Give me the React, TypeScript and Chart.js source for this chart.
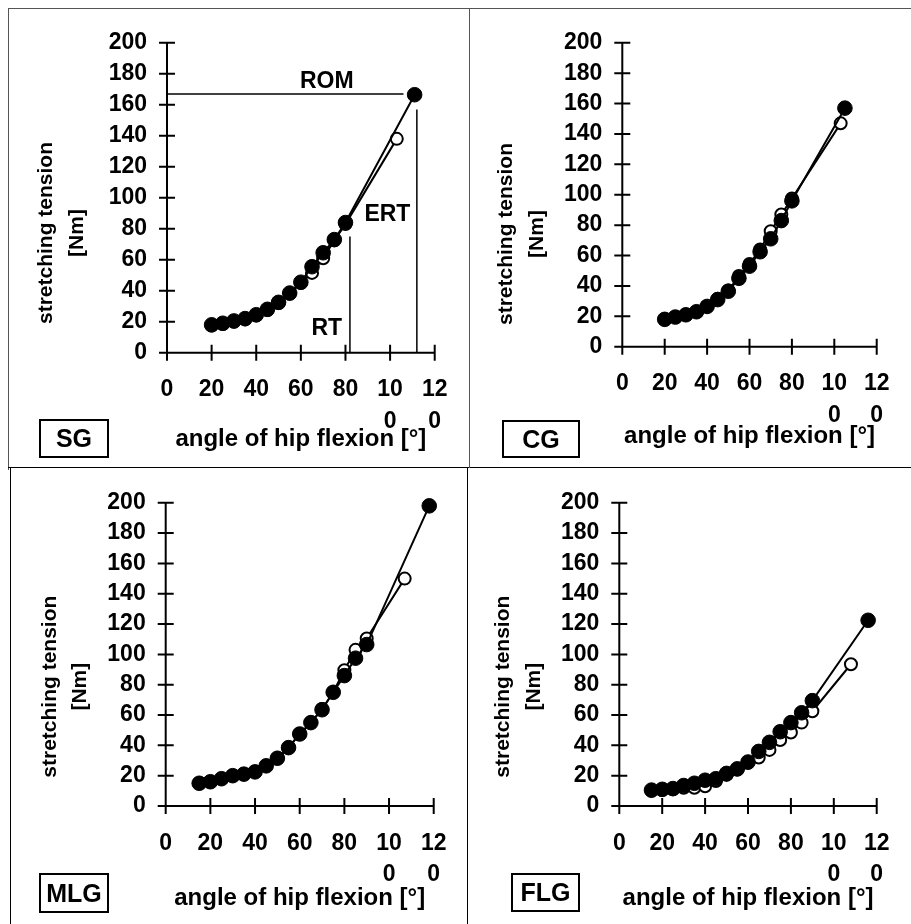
import React, { useEffect, useRef } from "react";
import { Chart, registerables } from "chart.js";

Chart.register(...registerables);

const FONT = "'Liberation Sans', Arial, Helvetica, sans-serif";

// ---------- shared axis text ----------
const xTickValues = [0, 20, 40, 60, 80, 100, 120];
const xTickLabels = ["0", "20", "40", "60", "80", "10\n0", "12\n0"];
const yTickValues = [0, 20, 40, 60, 80, 100, 120, 140, 160, 180, 200];
const yTickLabels = ["0", "20", "40", "60", "80", "100", "120", "140", "160", "180", "200"];
const xTitle = "angle of hip flexion [°]";
const yTitle = ["stretching tension", "[Nm]"];

// ---------- SG ----------
const sgFilledX = [20, 25, 30, 35, 40, 45, 50, 55, 60, 65, 70, 75, 80, 111];
const sgFilledY = [18, 19, 20.5, 22, 24.5, 28, 32.5, 38.5, 45.5, 55.5, 64.5, 73, 84, 166.5];
const sgOpenX = [20, 25, 30, 35, 40, 45, 50, 55, 60, 65, 70, 75, 80, 103];
const sgOpenY = [17.5, 18.5, 20, 21.5, 24, 27.5, 32, 38, 45, 51.5, 61, 72.5, 83, 138];

// SG annotations (ROM / RT / ERT)
const romLineX = [0, 106];
const romLineY = [167, 167];
const rtLineX = [82, 82];
const rtLineY = [0, 75];
const ertLineX = [112, 112];
const ertLineY = [0, 157];
const sgNoteText = ["ROM", "RT", "ERT"];
const sgNoteX = [71.6, 71.6, 98.8];
const sgNoteY = [175, 15.6, 89];

// ---------- CG ----------
const cgFilledX = [20, 25, 30, 35, 40, 45, 50, 55, 60, 65, 70, 75, 80, 105];
const cgFilledY = [18, 19.5, 21, 23, 26.5, 31, 36.5, 45, 53, 62.5, 71, 83, 96, 157];
const cgOpenX = [20, 25, 30, 35, 40, 45, 50, 55, 60, 65, 70, 75, 80, 103];
const cgOpenY = [18, 19.5, 21, 23, 26.5, 31.5, 37, 46.5, 54.5, 64, 76, 87, 97.5, 147];

// ---------- MLG ----------
const mlgFilledX = [15, 20, 25, 30, 35, 40, 45, 50, 55, 60, 65, 70, 75, 80, 85, 90, 118];
const mlgFilledY = [15, 16, 18, 20, 21, 22.5, 26.5, 31.5, 38.5, 47.5, 55, 63.5, 75, 86, 97.5, 106.5, 198];
const mlgOpenX = [15, 20, 25, 30, 35, 40, 45, 50, 55, 60, 65, 70, 75, 80, 85, 90, 107];
const mlgOpenY = [15, 16, 18, 20, 21, 22.5, 26.5, 31.5, 38.5, 47.5, 55, 64, 75, 89.5, 103, 110.5, 150];

// ---------- FLG ----------
const flgFilledX = [15, 20, 25, 30, 35, 40, 45, 50, 55, 60, 65, 70, 75, 80, 85, 90, 116];
const flgFilledY = [10.5, 11, 11.5, 13.5, 15, 17, 18, 21.5, 24.5, 29, 36, 42, 49, 55, 61.5, 69.5, 122.5];
const flgOpenX = [15, 20, 25, 30, 35, 40, 45, 50, 55, 60, 65, 70, 75, 80, 85, 90, 108];
const flgOpenY = [10, 10.5, 11, 12, 12, 13, 16.5, 20.5, 24, 28.5, 32, 37, 43.5, 48.5, 55, 62.5, 93.5];

const zip = (xs: number[], ys: number[]) => xs.map((x, i) => ({ x, y: ys[i] }));

type Panel = {
  name: string;
  left: number; top: number; width: number; height: number;
  axisX: number; topY: number; axisY: number; rightX: number;
  xTitleOffset: number;
  yTitleX: number; yTitleY: number;
  box: [number, number, number, number];
  filled: { x: number[]; y: number[] };
  open: { x: number[]; y: number[] };
  notes?: boolean;
};

const panels: Panel[] = [
  {
    name: "SG", left: 9, top: 9, width: 460, height: 459,
    axisX: 167, topY: 39.3, axisY: 352.7, rightX: 436.7, xTitleOffset: 87,
    yTitleX: 46.7, yTitleY: 233, box: [39, 419, 70, 39],
    filled: { x: sgFilledX, y: sgFilledY }, open: { x: sgOpenX, y: sgOpenY }, notes: true,
  },
  {
    name: "CG", left: 470, top: 9, width: 441, height: 459,
    axisX: 622.3, topY: 39.3, axisY: 346.7, rightX: 886.7, xTitleOffset: 90,
    yTitleX: 506.7, yTitleY: 234, box: [502, 420, 78, 38],
    filled: { x: cgFilledX, y: cgFilledY }, open: { x: cgOpenX, y: cgOpenY },
  },
  {
    name: "MLG", left: 11, top: 469, width: 457, height: 455,
    axisX: 165.7, topY: 499.3, axisY: 806, rightX: 437.7, xTitleOffset: 92,
    yTitleX: 50, yTitleY: 686.7, box: [39, 873, 70, 40],
    filled: { x: mlgFilledX, y: mlgFilledY }, open: { x: mlgOpenX, y: mlgOpenY },
  },
  {
    name: "FLG", left: 469, top: 469, width: 442, height: 455,
    axisX: 619.3, topY: 499.3, axisY: 806, rightX: 886.7, xTitleOffset: 92,
    yTitleX: 503.3, yTitleY: 686.7, box: [511, 873, 69, 39],
    filled: { x: flgFilledX, y: flgFilledY }, open: { x: flgOpenX, y: flgOpenY },
  },
];

const TICK = 8;

const crossAxesPlugin = {
  id: "crossAxes",
  beforeDatasetsDraw(chart: any) {
    const { ctx } = chart;
    const xs = chart.scales.x;
    const ys = chart.scales.y;
    const x0 = xs.getPixelForValue(0);
    const x1 = xs.getPixelForValue(120);
    const y0 = ys.getPixelForValue(0);
    const y1 = ys.getPixelForValue(200);
    ctx.save();
    ctx.strokeStyle = "#000";
    ctx.lineWidth = 2;
    ctx.beginPath();
    ctx.moveTo(x0, y1);
    ctx.lineTo(x0, y0 + TICK);
    ctx.moveTo(x0 - TICK, y0);
    ctx.lineTo(x1, y0);
    ys.ticks.forEach((t: any) => {
      const p = ys.getPixelForValue(t.value);
      ctx.moveTo(x0 - TICK, p);
      ctx.lineTo(x0 + TICK, p);
    });
    xs.ticks.forEach((t: any) => {
      const p = xs.getPixelForValue(t.value);
      ctx.moveTo(p, y0 - TICK);
      ctx.lineTo(p, y0 + TICK);
    });
    ctx.stroke();
    ctx.restore();
  },
};

const textPlugin = {
  id: "panelText",
  afterDraw(chart: any, _args: any, opts: any) {
    const { ctx } = chart;
    ctx.save();
    ctx.fillStyle = "#000";
    // y axis title (two rotated lines)
    ctx.font = `bold 21px ${FONT}`;
    ctx.textAlign = "center";
    ctx.textBaseline = "middle";
    opts.yTitle.forEach((line: string, i: number) => {
      ctx.save();
      ctx.translate(opts.yTitleX + i * 30.5, opts.yTitleY);
      ctx.rotate(-Math.PI / 2);
      ctx.fillText(line, 0, 0);
      ctx.restore();
    });
    // notes placed in data coordinates
    if (opts.notes) {
      ctx.font = `bold 23px ${FONT}`;
      opts.notes.text.forEach((t: string, i: number) => {
        const px = chart.scales.x.getPixelForValue(opts.notes.x[i]);
        const py = chart.scales.y.getPixelForValue(opts.notes.y[i]);
        ctx.fillText(t, px, py);
      });
    }
    ctx.restore();
  },
};

function makeConfig(p: Panel): any {
  const xScaleHeight = p.top + p.height - p.axisY;
  const titleSize = 24;
  const titleLH = titleSize * 1.2;
  const datasets: any[] = [
    {
      data: zip(p.filled.x, p.filled.y),
      showLine: true,
      borderColor: "#000",
      borderWidth: 2,
      pointRadius: 7.3,
      pointBorderWidth: 1,
      pointBackgroundColor: "#000",
      pointBorderColor: "#000",
      tension: 0,
      clip: false,
    },
    {
      data: zip(p.open.x, p.open.y),
      showLine: true,
      borderColor: "#000",
      borderWidth: 2,
      pointRadius: 6,
      pointBorderWidth: 2,
      pointBackgroundColor: "#fff",
      pointBorderColor: "#000",
      tension: 0,
      clip: false,
    },
  ];
  if (p.notes) {
    [
      [romLineX, romLineY],
      [rtLineX, rtLineY],
      [ertLineX, ertLineY],
    ].forEach(([lx, ly]) => {
      datasets.push({
        data: zip(lx, ly),
        showLine: true,
        borderColor: "#000",
        borderWidth: 1.5,
        pointRadius: 0,
        tension: 0,
        clip: false,
      });
    });
  }
  return {
    type: "scatter",
    data: { datasets },
    plugins: [crossAxesPlugin, textPlugin],
    options: {
      responsive: false,
      animation: false,
      devicePixelRatio: 1,
      events: [],
      layout: {
        autoPadding: false,
        padding: {
          left: 0,
          top: p.topY - p.top,
          right: p.left + p.width - p.rightX,
          bottom: 0,
        },
      },
      plugins: {
        legend: { display: false },
        tooltip: { enabled: false },
        panelText: {
          yTitle,
          yTitleX: p.yTitleX - p.left,
          yTitleY: p.yTitleY - p.top,
          notes: p.notes ? { text: sgNoteText, x: sgNoteX, y: sgNoteY } : null,
        },
      },
      scales: {
        x: {
          type: "linear",
          min: 0,
          max: 120,
          afterFit: (s: any) => {
            s.height = xScaleHeight;
          },
          afterBuildTicks: (s: any) => {
            s.ticks = xTickValues.map((v) => ({ value: v }));
          },
          grid: { display: false, drawTicks: false, tickLength: 0 },
          border: { display: false },
          ticks: {
            autoSkip: false,
            maxRotation: 0,
            minRotation: 0,
            padding: 21.5,
            color: "#000",
            font: { family: FONT, size: 23, weight: "bold", lineHeight: 1.38 },
            callback: (v: number) => {
              const i = xTickValues.indexOf(v);
              return i >= 0 ? xTickLabels[i].split("\n") : "";
            },
          },
          title: {
            display: true,
            text: xTitle,
            color: "#000",
            font: { family: FONT, size: titleSize, weight: "bold", lineHeight: 1.2 },
            padding: { top: 0, bottom: xScaleHeight - p.xTitleOffset - titleLH / 2 },
          },
        },
        y: {
          type: "linear",
          min: 0,
          max: 200,
          afterFit: (s: any) => {
            s.width = p.axisX - p.left;
          },
          afterBuildTicks: (s: any) => {
            s.ticks = yTickValues.map((v) => ({ value: v }));
          },
          grid: { display: false, drawTicks: false, tickLength: 0 },
          border: { display: false },
          ticks: {
            autoSkip: false,
            padding: 20,
            color: "#000",
            font: { family: FONT, size: 23, weight: "bold", lineHeight: 1.2 },
            callback: (v: number) => {
              const i = yTickValues.indexOf(v);
              return i >= 0 ? yTickLabels[i] : "";
            },
          },
        },
      },
    },
  };
}

function PanelChart({ p }: { p: Panel }) {
  const ref = useRef<HTMLCanvasElement>(null);
  useEffect(() => {
    const chart = new Chart(ref.current as HTMLCanvasElement, makeConfig(p));
    return () => chart.destroy();
  }, [p]);
  return (
    <canvas
      ref={ref}
      width={p.width}
      height={p.height}
      style={{ position: "absolute", left: p.left, top: p.top, width: p.width, height: p.height, display: "block" }}
    />
  );
}

function Line({ l, t, w, h, c = "#000" }: { l: number; t: number; w: number; h: number; c?: string }) {
  return <div style={{ position: "absolute", left: l, top: t, width: w, height: h, background: c }} />;
}

export default function App() {
  return (
    <div style={{ position: "absolute", left: 0, top: 0, width: 911, height: 924, background: "#fff", overflow: "hidden" }}>
      {panels.map((p) => (
        <PanelChart key={p.name} p={p} />
      ))}
      {panels.map((p) => (
        <div
          key={p.name + "-box"}
          style={{
            position: "absolute",
            left: p.box[0],
            top: p.box[1],
            width: p.box[2],
            height: p.box[3],
            border: "2px solid #000",
            boxSizing: "border-box",
            display: "flex",
            alignItems: "center",
            justifyContent: "center",
            fontFamily: FONT,
            fontWeight: "bold",
            fontSize: 25,
            color: "#000",
          }}
        >
          {p.name}
        </div>
      ))}
      <Line l={8} t={8} w={903} h={1} c="#555" />
      <Line l={8} t={8} w={1} h={462} c="#555" />
      <Line l={10} t={467} w={1} h={457} />
      <Line l={8} t={467} w={903} h={1} />
      <Line l={469} t={8} w={1} h={460} c="#555" />
      <Line l={467} t={467} w={1} h={457} />
    </div>
  );
}
